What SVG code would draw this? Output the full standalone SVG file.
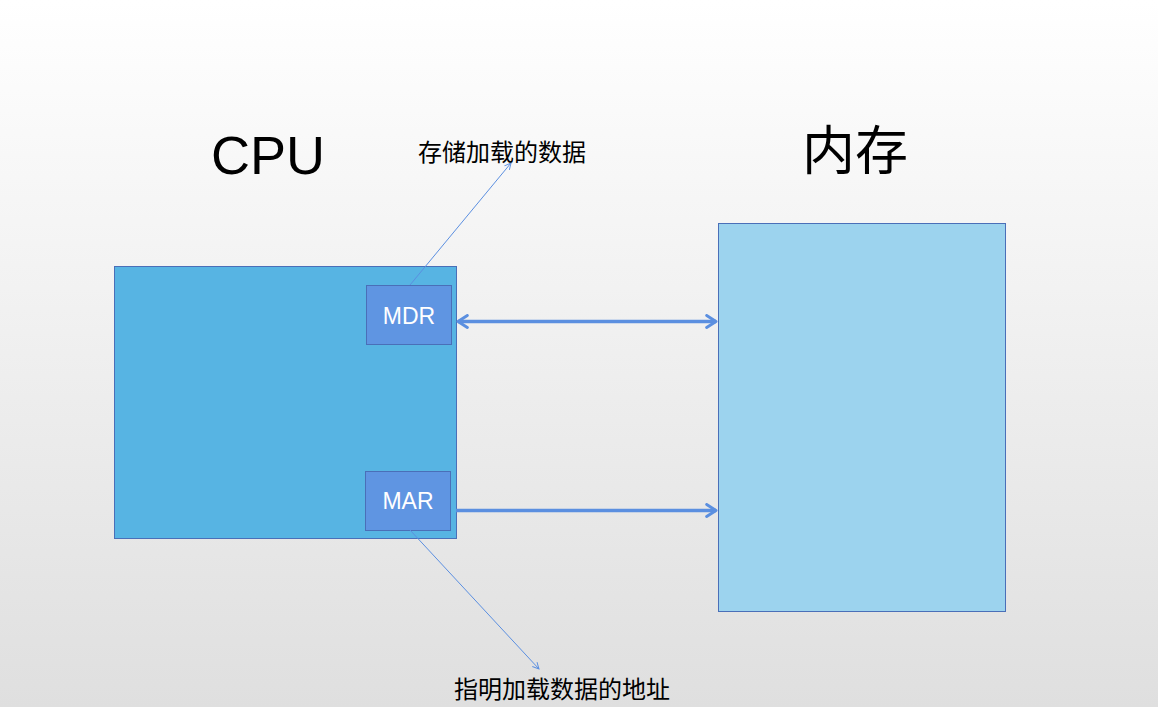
<svg xmlns="http://www.w3.org/2000/svg" width="1158" height="707" viewBox="0 0 1158 707">
<defs>
<linearGradient id="bg" x1="0" y1="0" x2="0" y2="1">
<stop offset="0" stop-color="#ffffff"/>
<stop offset="1" stop-color="#dfdfdf"/>
</linearGradient>
<marker id="open" viewBox="0 0 10 10" refX="9" refY="5" markerWidth="8" markerHeight="8" markerUnits="userSpaceOnUse" orient="auto-start-reverse">
<path d="M1,1 L9,5 L1,9" fill="none" stroke="#5b8fe0" stroke-width="1.2"/>
</marker>
<marker id="thick" viewBox="0 0 12 12" refX="10" refY="6" markerWidth="16" markerHeight="16" markerUnits="userSpaceOnUse" orient="auto-start-reverse">
<path d="M3,1.5 L10,6 L3,10.5" fill="none" stroke="#5b8fe0" stroke-width="2.2" stroke-linecap="round" stroke-linejoin="round"/>
</marker>
</defs>
<style>
.box{stroke:#4a6fb8;stroke-width:1}
.reg{fill:#5f95e2;stroke:#4a6fb8;stroke-width:1}
.regt{font-family:"Liberation Sans",Arial,sans-serif;font-size:23px;fill:#ffffff;text-anchor:middle}
.title{font-family:"Liberation Sans","Noto Sans CJK SC",sans-serif;fill:#000;text-anchor:middle}
.lbl{font-family:"Noto Sans CJK SC",sans-serif;font-size:24px;fill:#000}
.thin{stroke:#5b8fe0;stroke-width:1;fill:none}
.bold{stroke:#5b8fe0;stroke-width:3.5;fill:none}
</style>
<rect x="0" y="0" width="1158" height="707" fill="url(#bg)"/>
<text class="title" x="268" y="174" font-size="54">CPU</text>
<text class="title" x="855" y="170" font-size="53" style="font-family:'Noto Sans CJK SC',sans-serif">内存</text>
<text class="lbl" x="418" y="161">存储加载的数据</text>
<text class="lbl" x="454" y="698">指明加载数据的地址</text>
<g id="cpu"><rect class="box" x="114.5" y="266.5" width="342" height="272" fill="#57b4e3"/></g>
<g id="memory"><rect class="box" x="718.5" y="223.5" width="287" height="388" fill="#9cd3ee"/></g>
<g id="mdr"><rect class="reg" x="366.5" y="285.5" width="85" height="59"/><text class="regt" x="409" y="324">MDR</text></g>
<g id="mar"><rect class="reg" x="365.5" y="471.5" width="85" height="59"/><text class="regt" x="408" y="509">MAR</text></g>
<g id="connectors">
<line class="bold" x1="458" y1="321.5" x2="716" y2="321.5" marker-start="url(#thick)" marker-end="url(#thick)"/>
<line class="bold" x1="456" y1="510.5" x2="716" y2="510.5" marker-end="url(#thick)"/>
<line class="thin" x1="410" y1="285" x2="511" y2="163" marker-end="url(#open)"/>
<line class="thin" x1="410" y1="530" x2="539" y2="669" marker-end="url(#open)"/>
</g>
</svg>
